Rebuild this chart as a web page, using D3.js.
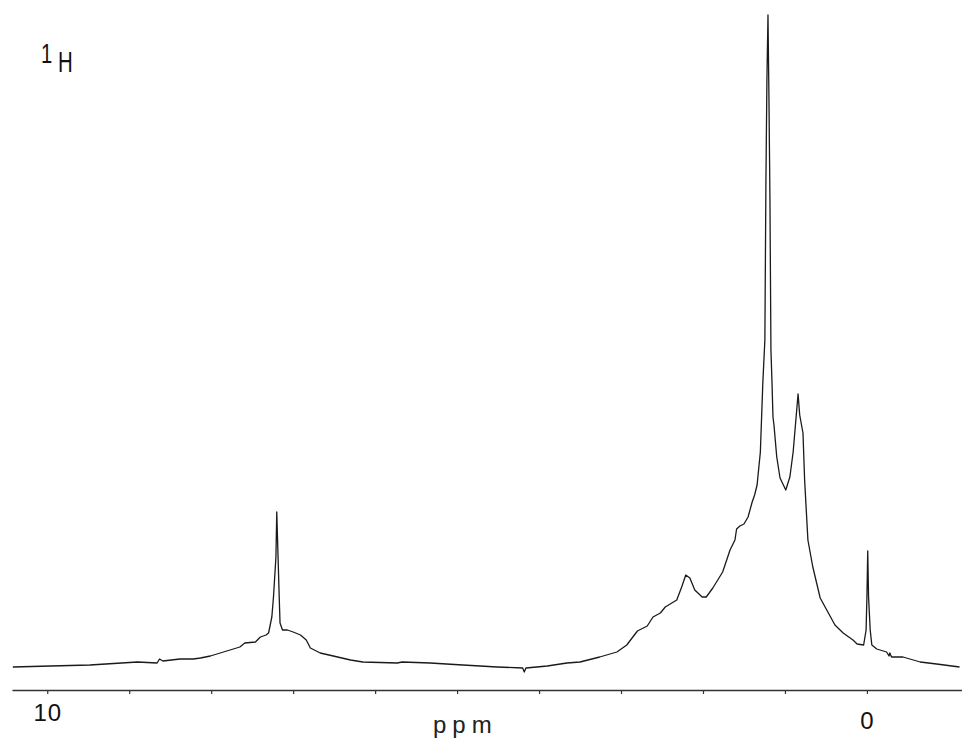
<!DOCTYPE html>
<html>
<head>
<meta charset="utf-8">
<script src="https://d3js.org/d3.v7.min.js"></script>
<style>
  body { margin: 0; background: #fff; }
  svg { display: block; }
  text { font-family: Arial, "Liberation Sans", Helvetica, sans-serif; }
</style>
</head>
<body>
<div class="graphContainer"></div>
<script>
// size of the page
const w = 962;
const h = 741;

// chemical shift (ppm), left to right
const shifts = [10.42, 9.96, 9.48, 8.90, 8.66, 8.63, 8.59, 8.38, 8.22, 8.13, 8.01, 7.77, 7.73, 7.65, 7.59,
  7.46, 7.40, 7.33, 7.30, 7.26, 7.24, 7.21, 7.20, 7.17, 7.16, 7.13, 7.07, 7.00, 6.91, 6.84, 6.79, 6.67,
  6.51, 6.30, 6.15, 5.73, 5.67, 5.33, 4.93, 4.51, 4.20, 4.18, 4.16, 3.90, 3.66, 3.50, 3.26, 3.05, 2.93,
  2.80, 2.68, 2.61, 2.52, 2.46, 2.32, 2.26, 2.21, 2.16, 2.10, 2.01, 1.96, 1.88, 1.76, 1.67, 1.61, 1.59,
  1.55, 1.50, 1.45, 1.40, 1.37, 1.34, 1.30, 1.27, 1.245, 1.232, 1.220, 1.207, 1.195, 1.183, 1.171, 1.159,
  1.146, 1.134, 1.10, 1.06, 0.99, 0.94, 0.90, 0.84, 0.82, 0.78, 0.76, 0.72, 0.66, 0.57, 0.49, 0.39,
  0.29, 0.17, 0.12, 0.04, 0.01, 0.00, -0.01, -0.02, -0.04, -0.06, -0.12, -0.24, -0.27, -0.28, -0.30,
  -0.44, -0.65, -0.85, -1.13];

// signal intensity (arbitrary units) at each shift
const intensity = [23, 24, 25, 28, 27, 31, 29, 31, 31, 32, 34, 40, 41, 43, 47,
  48, 53, 55, 57, 73, 93, 133, 178, 93, 67, 60, 60, 58, 55, 50, 42, 37,
  34, 30, 28, 27, 28, 27, 25, 23, 22, 18, 22, 24, 27, 28, 33, 38, 45,
  59, 64, 73, 77, 83, 90, 103, 115, 112, 100, 93, 93, 102, 118, 140, 150, 161,
  164, 166, 173, 188, 195, 205, 238, 307, 350, 510, 610, 675, 590, 490, 340, 310,
  273, 265, 233, 212, 200, 213, 238, 296, 275, 257, 210, 150, 123, 92, 80, 65,
  57, 50, 46, 45, 60, 93, 139, 93, 60, 45, 41, 38, 34, 37, 33,
  33, 28, 26, 23];

// axis ticks and the ones that carry a label
const tickPpm = [10, 9, 8, 7, 6, 5, 4, 3, 2, 1, 0];
const labelPpm = [10, 0];
const nucleus = ["1", "H"];
const unit = "ppm";

const spectrum = shifts.map((s, i) => ({ ppm: s, v: intensity[i] }));

const svg = d3.select(".graphContainer").append("svg")
  .attr("width", w)
  .attr("height", h);

// scales: ppm runs right to left like every NMR plot
const xScale = d3.scaleLinear()
  .domain([10.43, -1.16])
  .range([12, 962]);

const yScale = d3.scaleLinear()
  .domain([0, 675])
  .range([690, 15]);

// x axis along the bottom
const xAxis = d3.axisBottom(xScale)
  .tickValues(tickPpm)
  .tickSize(4)
  .tickSizeOuter(0)
  .tickPadding(10)
  .tickFormat(d => labelPpm.includes(d) ? d : "");

const gx = svg.append("g")
  .attr("transform", "translate(0,690)")
  .call(xAxis);

gx.select(".domain")
  .attr("stroke", "#333")
  .attr("stroke-width", 1.4);
gx.selectAll(".tick line")
  .attr("stroke", "#333")
  .attr("stroke-width", 1.2);
gx.selectAll(".tick text")
  .attr("fill", "#111")
  .attr("font-family", null)
  .attr("dy", d => d === 0 ? "1.05em" : "0.7em")
  .style("font-size", "24px")
  .style("letter-spacing", "1px");

// unit label
svg.append("text")
  .attr("x", 433)
  .attr("y", 733)
  .attr("fill", "#222")
  .style("font-size", "24px")
  .style("letter-spacing", "6px")
  .text(unit);

// the trace itself
const line = d3.line()
  .x(d => xScale(d.ppm))
  .y(d => yScale(d.v));

svg.append("path")
  .datum(spectrum)
  .attr("d", line)
  .attr("fill", "none")
  .attr("stroke", "#1a1a1a")
  .attr("stroke-width", 1.3)
  .attr("stroke-linejoin", "round");

// nucleus label in the top left corner
svg.append("text")
  .attr("transform", "translate(41,63) scale(0.75,1)")
  .attr("fill", "#111")
  .style("font-size", "27px")
  .text(nucleus[0]);

svg.append("text")
  .attr("transform", "translate(58,72) scale(0.68,1)")
  .attr("fill", "#111")
  .style("font-size", "30px")
  .text(nucleus[1]);
</script>
</body>
</html>
